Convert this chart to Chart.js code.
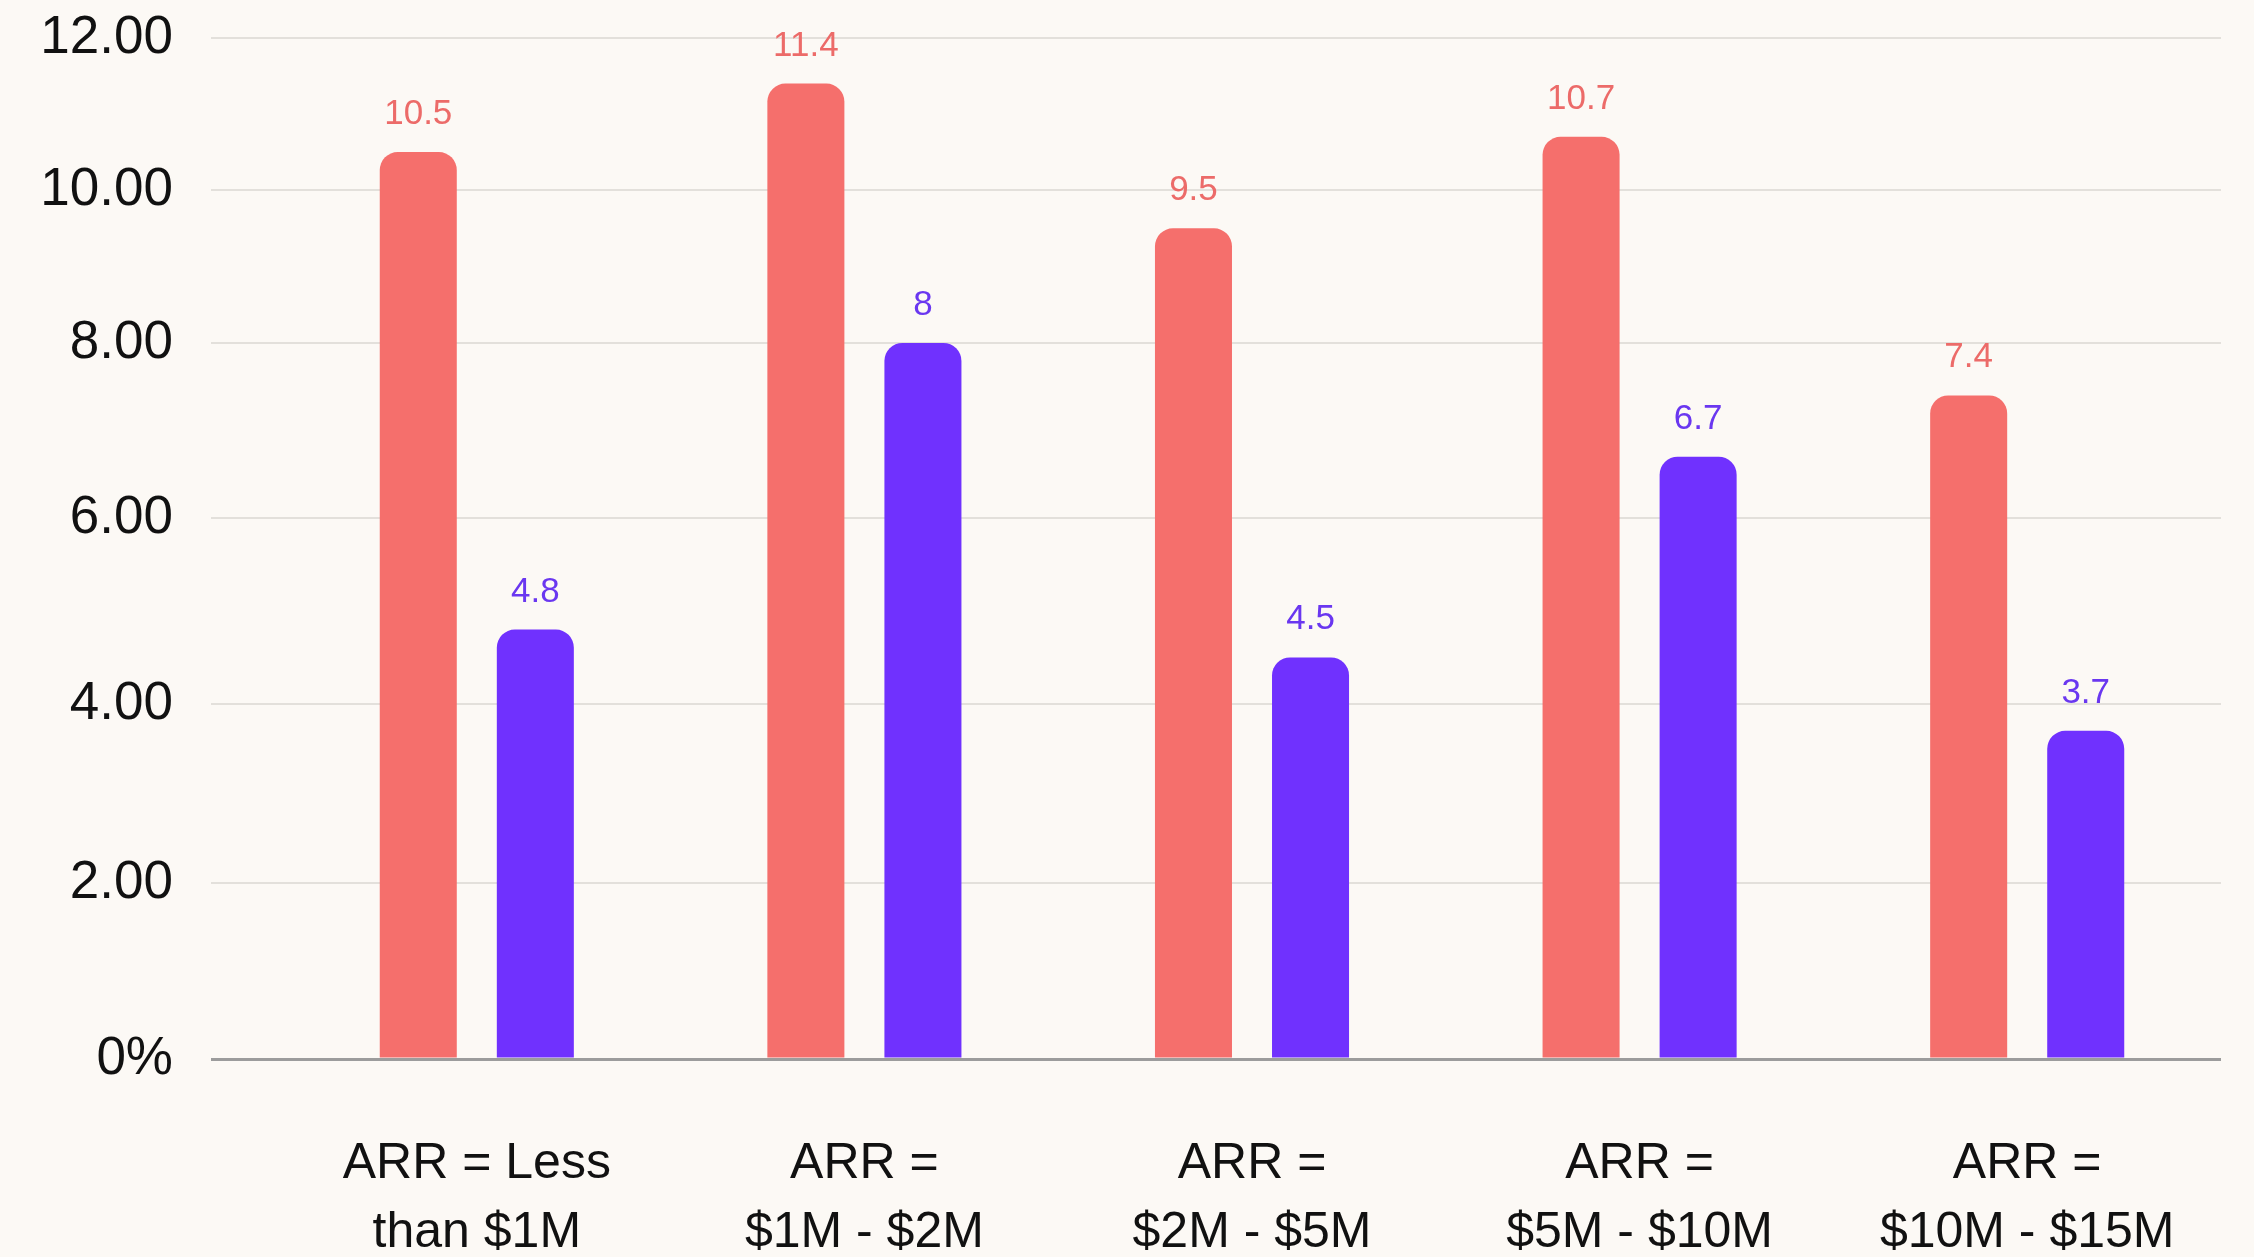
<!DOCTYPE html>
<html>
<head>
<meta charset="utf-8">
<script src="https://cdn.jsdelivr.net/npm/chart.js@4/dist/chart.umd.min.js"></script>
<style>
  html, body { margin: 0; padding: 0; background: #fcf9f5; }
  #wrap { width: 2254px; height: 1257px; }
  canvas { display: block; }
</style>
</head>
<body>
<div id="wrap"><canvas id="chart" width="2254" height="1257"></canvas></div>
<script>
// ARR bands (two-line axis labels)
const categories = [
  ['ARR = Less', 'than $1M'],
  ['ARR =', '$1M - $2M'],
  ['ARR =', '$2M - $5M'],
  ['ARR =', '$5M - $10M'],
  ['ARR =', '$10M - $15M']
];
const seriesCoral = [10.5, 11.4, 9.5, 10.7, 7.4];
const seriesViolet = [4.8, 8, 4.5, 6.7, 3.7];
const yTickValues = [0, 2, 4, 6, 8, 10, 12];
const yTickLabels = ['0%', '2.00', '4.00', '6.00', '8.00', '10.00', '12.00'];

// Linear scale whose tick intervals are allotted uneven shares of the axis length.
class SegmentedScale extends Chart.LinearScale {
  _share(v) {
    const vals = this.options.segmentValues;
    const fr = this.options.segmentShares;
    const n = vals.length - 1;
    if (v <= vals[0]) {
      return fr[0] + (v - vals[0]) * (fr[1] - fr[0]) / (vals[1] - vals[0]);
    }
    for (let i = 1; i <= n; i++) {
      if (v <= vals[i]) {
        const t = (v - vals[i - 1]) / (vals[i] - vals[i - 1]);
        return fr[i - 1] + t * (fr[i] - fr[i - 1]);
      }
    }
    return fr[n] + (v - vals[n]) * (fr[n] - fr[n - 1]) / (vals[n] - vals[n - 1]);
  }
  getPixelForValue(value) {
    if (value === null || value === undefined || isNaN(value)) return NaN;
    return this.getPixelForDecimal(this._share(value));
  }
  getValueForPixel(pixel) {
    const d = this.getDecimalForPixel(pixel);
    const vals = this.options.segmentValues;
    const fr = this.options.segmentShares;
    for (let i = 1; i < vals.length; i++) {
      if (d <= fr[i] || i === vals.length - 1) {
        const t = (d - fr[i - 1]) / (fr[i] - fr[i - 1]);
        return vals[i - 1] + t * (vals[i] - vals[i - 1]);
      }
    }
    return vals[vals.length - 1];
  }
}
SegmentedScale.id = 'segmented';
SegmentedScale.defaults = Chart.LinearScale.defaults;
Chart.register(SegmentedScale);

// Value labels above each bar
const valueLabels = {
  id: 'valueLabels',
  afterDatasetsDraw(chart) {
    const ctx = chart.ctx;
    chart.data.datasets.forEach((ds, di) => {
      const meta = chart.getDatasetMeta(di);
      if (meta.hidden) return;
      meta.data.forEach((bar, i) => {
        ctx.save();
        ctx.font = '35px "Liberation Sans", Arial, sans-serif';
        ctx.fillStyle = ds.valueColor;
        ctx.textAlign = 'center';
        ctx.textBaseline = 'alphabetic';
        ctx.fillText(String(ds.data[i]), bar.x, bar.y - 28);
        ctx.restore();
      });
    });
  }
};

const FONT = '"Liberation Sans", Arial, sans-serif';
const GRID = '#e3e0db';
const ZERO_LINE = '#9c9c9c';

new Chart(document.getElementById('chart'), {
  type: 'bar',
  data: {
    labels: categories,
    datasets: [
      {
        label: 'Coral',
        data: seriesCoral,
        backgroundColor: '#f56f6c',
        valueColor: '#ec6b69',
        borderRadius: 18,
        borderSkipped: 'start',
        categoryPercentage: 0.604,
        barPercentage: 0.658
      },
      {
        label: 'Violet',
        data: seriesViolet,
        backgroundColor: '#7031fe',
        valueColor: '#6a37f0',
        borderRadius: 18,
        borderSkipped: 'start',
        categoryPercentage: 0.604,
        barPercentage: 0.658
      }
    ]
  },
  options: {
    responsive: false,
    devicePixelRatio: 1,
    animation: false,
    layout: { padding: { top: 38, right: 33, left: 0, bottom: 0 } },
    plugins: {
      legend: { display: false },
      tooltip: { enabled: false }
    },
    scales: {
      x: {
        grid: { display: false, drawTicks: false, tickLength: 0 },
        border: { display: false },
        ticks: {
          color: '#111111',
          font: { family: FONT, size: 50, lineHeight: 1.38 },
          padding: 71,
          maxRotation: 0,
          autoSkip: false
        },
        afterFit(scale) { scale.height = 198; }
      },
      y: {
        type: 'segmented',
        min: 0,
        max: 12,
        segmentValues: yTickValues,
        segmentShares: [0, 0.1724, 0.3477, 0.5299, 0.7013, 0.8511, 1],
        border: { display: false },
        grid: {
          drawTicks: true,
          tickLength: 72,
          color: (c) => (c.tick && c.tick.value === 0 ? ZERO_LINE : GRID),
          lineWidth: (c) => (c.tick && c.tick.value === 0 ? 3 : 2)
        },
        ticks: {
          stepSize: 2,
          padding: 38,
          color: '#111111',
          font: { family: FONT, size: 53 },
          callback: (v) => {
            const k = yTickValues.indexOf(v);
            return k >= 0 ? yTickLabels[k] : '';
          }
        },
        afterFit(scale) {
          scale.width = 283;
          scale.paddingTop = 0;
          scale.paddingBottom = 0;
        }
      }
    }
  },
  plugins: [valueLabels]
});
</script>
</body>
</html>
